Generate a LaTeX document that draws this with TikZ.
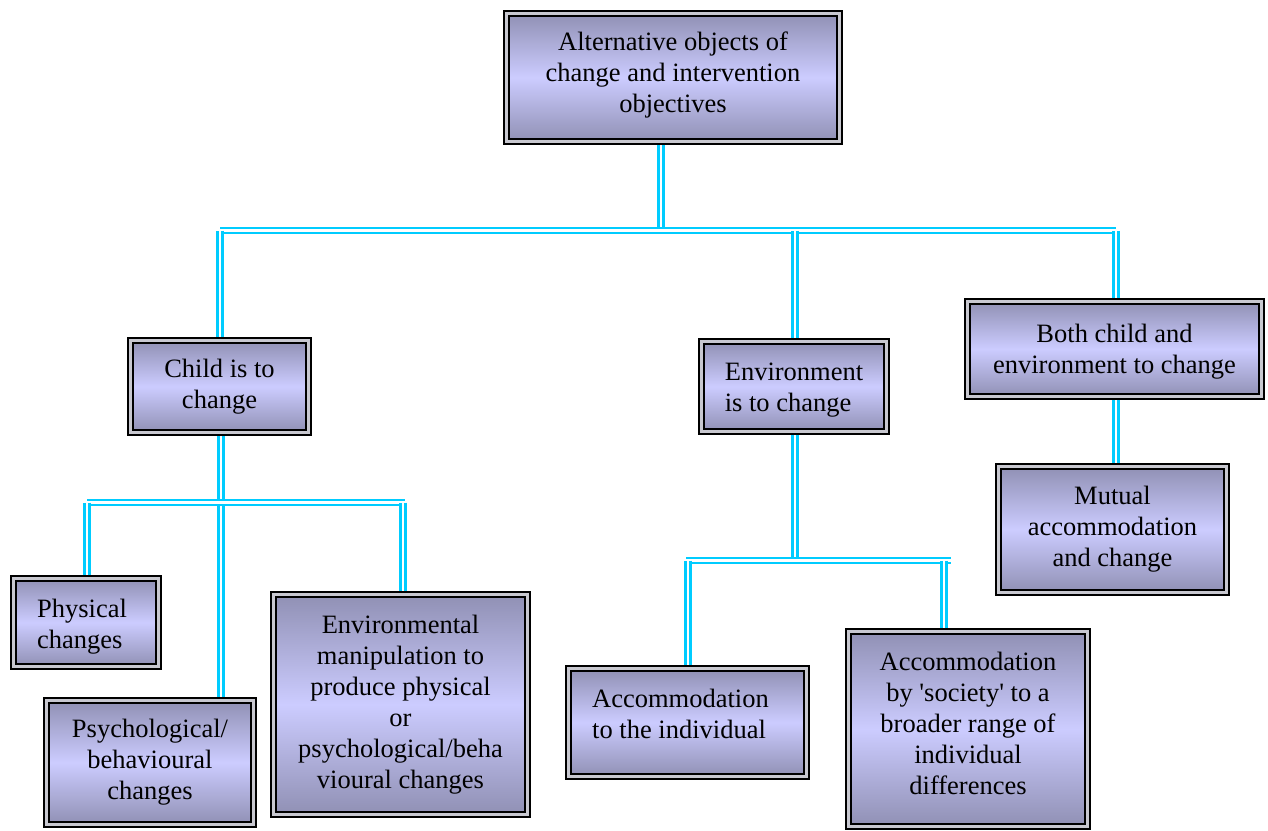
\documentclass[tikz,border=0pt]{standalone}
\usepackage{fontspec}
\setmainfont{Liberation Serif}
\usetikzlibrary{backgrounds}
\definecolor{boxdark}{HTML}{9090B4}
\definecolor{boxlight}{HTML}{CCCCFF}
\definecolor{boxgap}{HTML}{C8C8D0}
\definecolor{linkcyan}{HTML}{00CCFF}
\newcommand{\boxfont}{\fontsize{26.5}{31}\selectfont}
% invisible struts that nudge a text block inside its box
\newcommand{\padtop}[1]{\rule{0pt}{#1}}
\newcommand{\padbot}[1]{\rule[-#1]{0pt}{0pt}}
\tikzset{
  box/.style={draw=black, line width=2.4pt, double=boxgap, double distance=2.2pt,
    top color=boxdark, bottom color=boxdark, middle color=boxlight,
    inner sep=0pt, align=center, font=\boxfont},
  conn/.style={draw=linkcyan, line width=2.4pt, double=white, double distance=2.6pt}
}
\begin{document}
\begin{tikzpicture}[x=1pt,y=-1pt]
\useasboundingbox (0,0) rectangle (1268,830);

% boxes: minimum size = outer size minus the double border
\node[box, minimum width=333, minimum height=128] (top) at (673,77.5)
  {Alternative objects of\\change and intervention\\objectives\padbot{11.5pt}};
\node[box, minimum width=178, minimum height=92] (child) at (219.5,386.5)
  {Child is to\\change};
\node[box, minimum width=185, minimum height=90, align=left] (env) at (794,386.5)
  {\padtop{25.5pt}Environment\\is to change};
\node[box, minimum width=294, minimum height=95] (both) at (1114.5,349)
  {\padtop{24pt}Both child and\\environment to change};
\node[box, minimum width=228, minimum height=126] (mutual) at (1112.5,529.5)
  {Mutual\\accommodation\\and change};
\node[box, minimum width=145, minimum height=88, align=left] (phys) at (86,622.5)
  {\padtop{26pt}Physical\hspace*{8pt}\\changes};
\node[box, minimum width=207, minimum height=124] (psych) at (150,762.5)
  {Psychological/\\behavioural\\changes};
\node[box, minimum width=254, minimum height=220] (manip) at (400.5,704.5)
  {Environmental\\manipulation to\\produce physical\\or\\psychological/beha\\vioural changes};
\node[box, minimum width=238, minimum height=108, align=left] (indiv) at (687.5,722.5)
  {Accommodation\\to the individual\hspace*{17pt}\padbot{18pt}};
\node[box, minimum width=239, minimum height=195] (soc) at (968,729)
  {Accommodation\\by \textquotesingle society\textquotesingle{} to a\\broader range of\\individual\\differences\padbot{12pt}};

% junction points of the double-line connectors
\coordinate (j0) at (661,230.5);
\coordinate (jL) at (220,230.5);
\coordinate (jR) at (1116,230.5);
\coordinate (jE) at (795,230.5);
\coordinate (k0) at (221,502.5);
\coordinate (kL) at (87,502.5);
\coordinate (kR) at (405,502.5);
\coordinate (kD) at (403,502.5);
\coordinate (m0) at (795,560.5);
\coordinate (mL) at (686,560.5);
\coordinate (mR) at (951,560.5);
\coordinate (mD) at (944,560.5);
\coordinate (mI) at (688,560.5);

\begin{scope}[on background layer]
  % top level
  \draw[conn] (top.south -| j0) -- (j0);
  \draw[conn] (jL) -- (jR);
  \draw[conn] (jL) -- (jL |- child.north);
  \draw[conn] (jE) -- (jE |- env.north);
  \draw[conn] (both.north -| jR) -- (jR);
  % child branch
  \draw[conn] (child.south -| k0) -- (k0 |- psych.north);
  \draw[conn] (kL) -- (kR);
  \draw[conn] (kL) -- (kL |- phys.north);
  \draw[conn] (kD) -- (kD |- manip.north);
  % environment branch
  \draw[conn] (env.south -| m0) -- (m0);
  \draw[conn] (mL) -- (mR);
  \draw[conn] (mI) -- (mI |- indiv.north);
  \draw[conn] (mD) -- (mD |- soc.north);
  % both branch
  \draw[conn] (both.south -| jR) -- (jR |- mutual.north);
\end{scope}
\end{tikzpicture}
\end{document}
